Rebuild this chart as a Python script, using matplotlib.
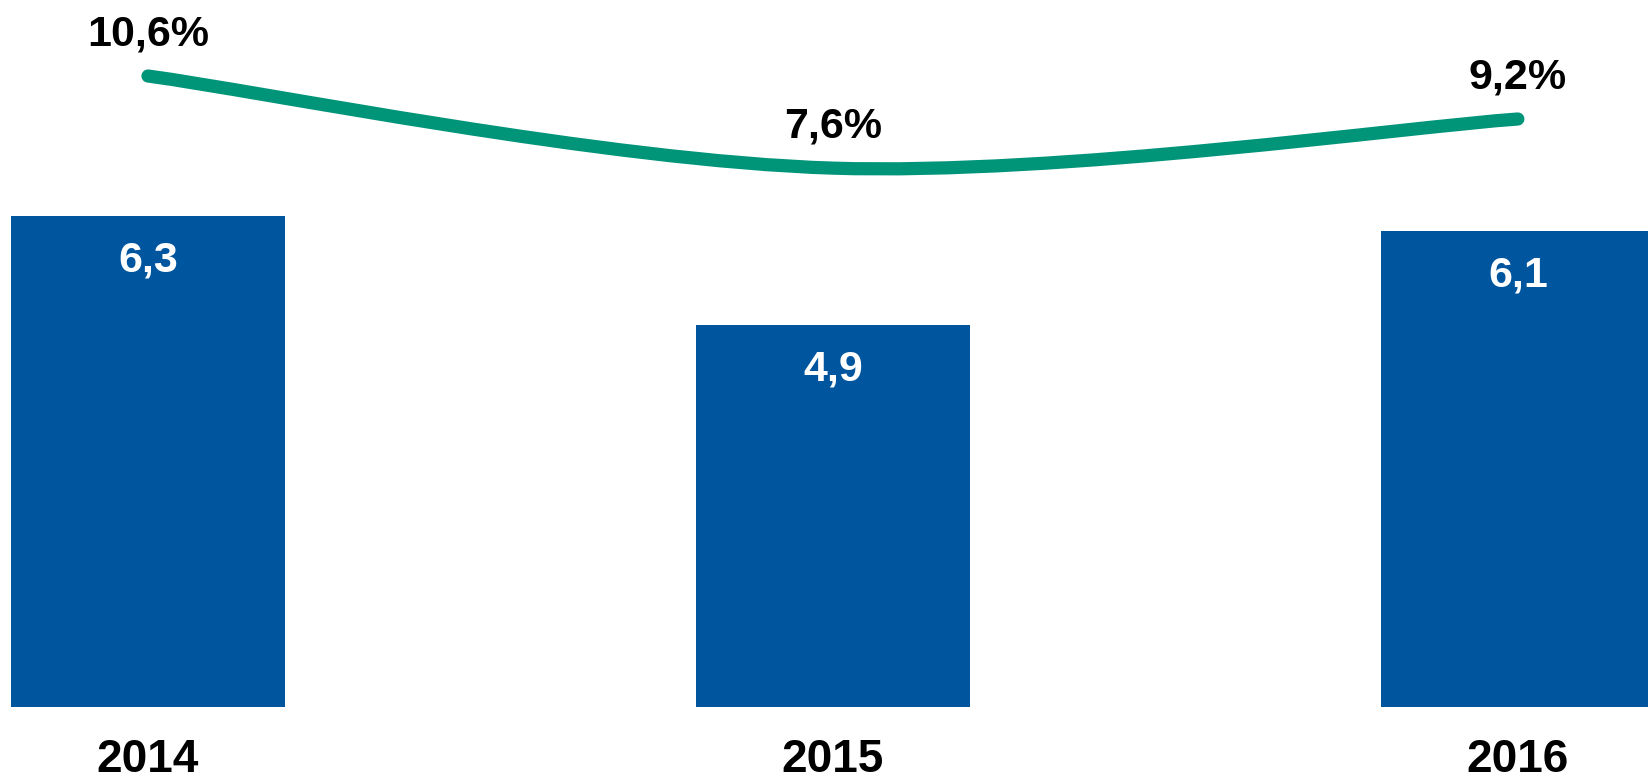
import matplotlib
matplotlib.use("Agg")
import matplotlib.pyplot as plt
from matplotlib.path import Path
from matplotlib.patches import PathPatch

years = ["2014", "2015", "2016"]
bar_values = [6.3, 4.9, 6.1]
bar_labels = ["6,3", "4,9", "6,1"]
pct_values = [10.6, 7.6, 9.2]
pct_labels = ["10,6%", "7,6%", "9,2%"]

BLUE = "#00559F"
GREEN = "#009479"
FONT = "Liberation Sans"

fig = plt.figure(figsize=(16.48, 7.82), dpi=100)
ax = fig.add_axes([0, 0, 1, 1])
ax.set_xlim(-0.216, 2.190)
ax.set_ylim(-0.962, 9.064)
ax.axis("off")

x = list(range(len(years)))
ax.bar(x, bar_values, width=0.4, color=BLUE, zorder=2)
for xi, v, lab in zip(x, bar_values, bar_labels):
    ax.annotate(lab, (xi, v), xytext=(0, -32), textcoords="offset points",
                ha="center", va="center", color="white", fontsize=31,
                fontweight="bold", family=FONT)
for xi, yr in zip(x, years):
    ax.annotate(yr, (xi, 0), xytext=(0, -38), textcoords="offset points",
                ha="center", va="center", color="black", fontsize=33,
                fontweight="bold", family=FONT, annotation_clip=False)

ax2 = ax.twinx()
ax2.set_position([0, 0, 1, 1])
ax2.set_xlim(ax.get_xlim())
ax2.set_ylim(-12.39, 13.075)
ax2.axis("off")

# smoothed line (Catmull-Rom style Bezier segments, like a spreadsheet "smooth line")
pts = list(zip(x, pct_values))
verts = [pts[0]]
codes = [Path.MOVETO]
n = len(pts)
for i in range(n - 1):
    p0 = pts[i - 1] if i > 0 else pts[i]
    p1 = pts[i]
    p2 = pts[i + 1]
    p3 = pts[i + 2] if i + 2 < n else pts[i + 1]
    c1 = (p1[0] + (p2[0] - p0[0]) / 6, p1[1] + (p2[1] - p0[1]) / 6)
    c2 = (p2[0] - (p3[0] - p1[0]) / 6, p2[1] - (p3[1] - p1[1]) / 6)
    verts += [c1, c2, p2]
    codes += [Path.CURVE4] * 3
patch = PathPatch(Path(verts, codes), facecolor="none", edgecolor=GREEN,
                  lw=9.5, capstyle="round", joinstyle="round", zorder=3)
ax2.add_patch(patch)

for xi, v, lab in zip(x, pct_values, pct_labels):
    ax2.annotate(lab, (xi, v), xytext=(0, 30), textcoords="offset points",
                 ha="center", va="center", color="black", fontsize=31,
                 fontweight="bold", family=FONT)

fig.savefig("out.png", dpi=100, facecolor="white")
